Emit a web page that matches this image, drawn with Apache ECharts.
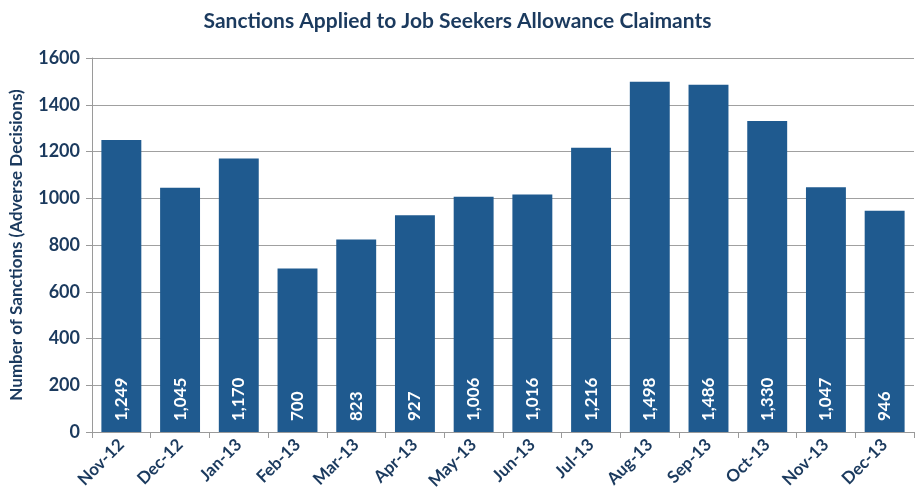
<!DOCTYPE html>
<html><head><meta charset="utf-8">
<script src="https://cdn.jsdelivr.net/npm/echarts@6/dist/echarts.min.js"></script>
<style>html,body{margin:0;padding:0;background:#fff}#c{width:915px;height:500px}</style>
</head><body><div id="c"></div>
<script>
const categories = ["Nov-12","Dec-12","Jan-13","Feb-13","Mar-13","Apr-13","May-13","Jun-13","Jul-13","Aug-13","Sep-13","Oct-13","Nov-13","Dec-13"];
const sanctions = [1249,1045,1170,700,823,927,1006,1016,1216,1498,1486,1330,1047,946];
const yTicks = [0,200,400,600,800,1000,1200,1400,1600];

const FONT = "Lato";
const TXT = "#1b3a5e";
const chart = echarts.init(document.getElementById('c'));
chart.setOption({
  animation: false,
  title: {
    text: "Sanctions Applied to Job Seekers Allowance Claimants",
    left: 'center', top: 6,
    textStyle: {fontFamily: FONT, fontSize: 21, fontWeight: 'bold', color: TXT}
  },
  grid: {left: 92, right: 1, top: 58, bottom: 68, outerBoundsMode: 'none', containLabel: false},
  xAxis: {
    type: 'category', data: categories,
    axisLine: {lineStyle: {color: '#9a9a9a'}},
    axisTick: {show: true, length: 6, lineStyle: {color: '#9a9a9a'}},
    axisLabel: {rotate: 45, fontFamily: FONT, fontSize: 17, fontWeight: 'bold', color: TXT, margin: 10, interval: 0}
  },
  yAxis: {
    type: 'value', min: yTicks[0], max: yTicks[yTicks.length-1], interval: 200,
    name: "Number of Sanctions (Adverse Decisions)",
    nameLocation: 'middle', nameGap: 67, nameRotate: 90,
    nameTextStyle: {fontFamily: FONT, fontSize: 17, fontWeight: 'bold', color: TXT},
    axisLine: {show: true, lineStyle: {color: '#9a9a9a'}},
    axisTick: {show: true, length: 6, lineStyle: {color: '#9a9a9a'}},
    splitLine: {lineStyle: {color: '#a0a0a0'}},
    axisLabel: {fontFamily: FONT, fontSize: 18, fontWeight: 'bold', color: TXT, margin: 12, formatter: v => String(v)}
  },
  series: [{
    type: 'bar', data: sanctions, barCategoryGap: '32%',
    itemStyle: {color: '#1f5a8f'},
    label: {
      show: true, position: 'insideBottom', rotate: 90, align: 'left', verticalAlign: 'middle',
      distance: 11,
      formatter: p => p.value.toLocaleString('en-US'),
      fontFamily: FONT, fontSize: 17, fontWeight: 'bold', color: '#ffffff'
    }
  }]
});
</script></body></html>
